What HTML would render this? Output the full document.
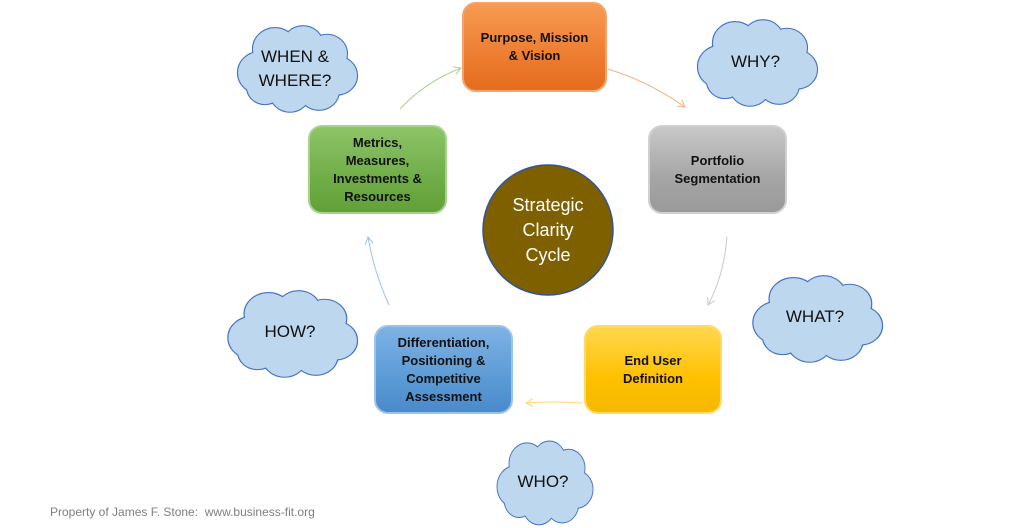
<!DOCTYPE html>
<html><head><style>
body{margin:0;width:1023px;height:528px;background:#fff;position:relative;overflow:hidden;font-family:"Liberation Sans",sans-serif}
.b{position:absolute;border-radius:14px;display:flex;align-items:center;justify-content:center;text-align:center;font-weight:bold;font-size:13px;line-height:18px;color:#111;box-sizing:border-box}
.t{position:absolute;text-align:center;font-size:17px;color:#111;line-height:24px}
</style></head><body>
<svg width="1023" height="528" style="position:absolute;left:0;top:0">
<defs>
<g id="cl">
<circle cx="-35" cy="5" r="22"/><circle cx="-20" cy="-20" r="22"/><circle cx="8" cy="-24" r="20"/><circle cx="32" cy="-15" r="20"/><circle cx="42" cy="8" r="20"/><circle cx="24" cy="24" r="20"/><circle cx="-5" cy="26" r="20"/><circle cx="-30" cy="20" r="18"/><ellipse cx="0" cy="2" rx="40" ry="28"/>
</g>
<marker id="ah" markerWidth="10" markerHeight="10" refX="8" refY="5" orient="auto" markerUnits="userSpaceOnUse"><path d="M1,1 L8,5 L1,9" fill="none" stroke="context-stroke" stroke-width="1"/></marker>
</defs>
<g fill="#bdd7ee" stroke="#4472c4" stroke-width="2.2">
<use href="#cl" transform="translate(295,68) scale(1.0,0.95)"/>
<use href="#cl" transform="translate(755,62) scale(1.0,0.95)"/>
<use href="#cl" transform="translate(815,318) scale(1.08,0.95)"/>
<use href="#cl" transform="translate(290,333) scale(1.08,0.95)"/>
<use href="#cl" transform="translate(543,482) scale(0.8,0.92)"/>
</g>
<g fill="#bdd7ee" stroke="none">
<use href="#cl" transform="translate(295,68) scale(1.0,0.95)"/>
<use href="#cl" transform="translate(755,62) scale(1.0,0.95)"/>
<use href="#cl" transform="translate(815,318) scale(1.08,0.95)"/>
<use href="#cl" transform="translate(290,333) scale(1.08,0.95)"/>
<use href="#cl" transform="translate(543,482) scale(0.8,0.92)"/>
</g>
<g fill="none" stroke-width="1">
<path d="M400,109 Q425,82 461,68" stroke="#a9d18e" marker-end="url(#ah)"/>
<path d="M608,69 Q650,82 685,107" stroke="#f4b183" marker-end="url(#ah)"/>
<path d="M727,237 Q724,275 708,305" stroke="#c9c9c9" marker-end="url(#ah)"/>
<path d="M582,403 Q555,401 526,403" stroke="#ffd966" marker-end="url(#ah)"/>
<path d="M389,305 Q374,272 368,237" stroke="#9dc3e6" marker-end="url(#ah)"/>
</g>
<circle cx="548" cy="230" r="65" fill="#7f6000" stroke="#2f5597" stroke-width="1.5"/>
</svg>
<div class="b" style="left:462px;top:2px;width:145px;height:90px;background:linear-gradient(#f79a52,#ed7d31 60%,#e46d1e);border:2px solid #f4a26a">Purpose, Mission<br>&amp; Vision</div>
<div class="b" style="left:648px;top:125px;width:139px;height:89px;background:linear-gradient(#c8c8c8,#a5a5a5 60%,#9a9a9a);border:2px solid #d0d0d0">Portfolio<br>Segmentation</div>
<div class="b" style="left:584px;top:325px;width:138px;height:89px;background:linear-gradient(#ffd84d,#ffc000 60%,#f5b800);border:2px solid #ffd966">End User<br>Definition</div>
<div class="b" style="left:374px;top:325px;width:139px;height:89px;background:linear-gradient(#7fb2e5,#5b9bd5 60%,#4a8acb);border:2px solid #9dc3e6">Differentiation,<br>Positioning &amp;<br>Competitive<br>Assessment</div>
<div class="b" style="left:308px;top:125px;width:139px;height:89px;background:linear-gradient(#8dc468,#70ad47 60%,#63a03a);border:2px solid #a9d18e">Metrics,<br>Measures,<br>Investments &amp;<br>Resources</div>
<div class="t" style="left:483px;top:193px;width:130px;color:#fff;font-size:18px;line-height:25px">Strategic<br>Clarity<br>Cycle</div>
<div class="t" style="left:235px;top:45px;width:120px">WHEN &amp;<br>WHERE?</div>
<div class="t" style="left:698px;top:50px;width:115px">WHY?</div>
<div class="t" style="left:755px;top:305px;width:120px">WHAT?</div>
<div class="t" style="left:230px;top:320px;width:120px">HOW?</div>
<div class="t" style="left:493px;top:470px;width:100px">WHO?</div>
<div style="position:absolute;left:50px;top:505px;font-size:12px;color:#7f7f7f">Property of James F. Stone:&nbsp; www.business-fit.org</div>
</body></html>
